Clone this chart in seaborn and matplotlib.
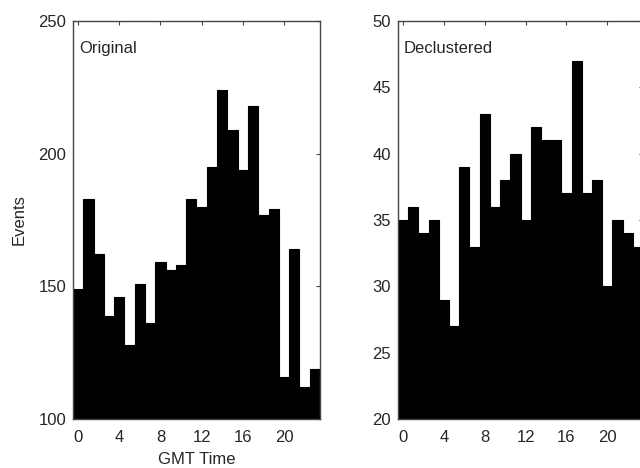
import numpy as np
import pandas as pd
import matplotlib
matplotlib.use("Agg")
import matplotlib.pyplot as plt
import seaborn as sns

# ── Data ─────────────────────────────────────────────────────────────────────
HOURS = list(range(24))
ORIGINAL = [149, 183, 162, 139, 146, 128, 151, 136, 159, 156, 158, 183,
            180, 195, 224, 209, 194, 218, 177, 179, 116, 164, 112, 119]
DECLUSTERED = [35, 36, 34, 35, 29, 27, 39, 33, 43, 36, 38, 40,
               35, 42, 41, 41, 37, 47, 37, 38, 30, 35, 34, 33]
XTICKS = [0, 4, 8, 12, 16, 20]

sns.set_style("white")
plt.rcParams["font.family"] = ["Liberation Sans", "DejaVu Sans"]

SPINE = "#444444"
FS = 12

fig = plt.figure(figsize=(6.4, 4.68), dpi=100)
ax1 = fig.add_axes([73 / 640, 49 / 468, 247 / 640, 398 / 468])
ax2 = fig.add_axes([398 / 640, 49 / 468, 245 / 640, 398 / 468])


def draw(ax, vals, ylim, yticks, label):
    df = pd.DataFrame({"hour": HOURS, "events": vals})
    sns.barplot(data=df, x="hour", y="events", ax=ax, color="black",
                width=1.0, native_scale=True, saturation=1,
                edgecolor="black", linewidth=0.8)
    ax.set_xlim(-0.5, 23.5)
    ax.set_ylim(*ylim)
    ax.set_xticks(XTICKS)
    ax.set_yticks(yticks)
    ax.tick_params(direction="in", length=3, width=0.8, color=SPINE,
                   top=True, right=True, labelsize=FS)
    ax.tick_params(axis="y", pad=5)
    ax.tick_params(axis="x", pad=8)
    for s in ax.spines.values():
        s.set_visible(True)
        s.set_color(SPINE)
        s.set_linewidth(1.0)
        s.set_zorder(5)
    ax.set_xlabel("")
    ax.set_ylabel("")
    ax.text(0.024, 0.93, label, transform=ax.transAxes, fontsize=FS,
            ha="left", va="center")


draw(ax1, ORIGINAL, (100, 250), [100, 150, 200, 250], "Original")
draw(ax2, DECLUSTERED, (20, 50), [20, 25, 30, 35, 40, 45, 50], "Declustered")

ax1.set_ylabel("Events", fontsize=FS, labelpad=8)
ax1.set_xlabel("GMT Time", fontsize=FS, labelpad=5)

fig.savefig("out.png", dpi=100)
